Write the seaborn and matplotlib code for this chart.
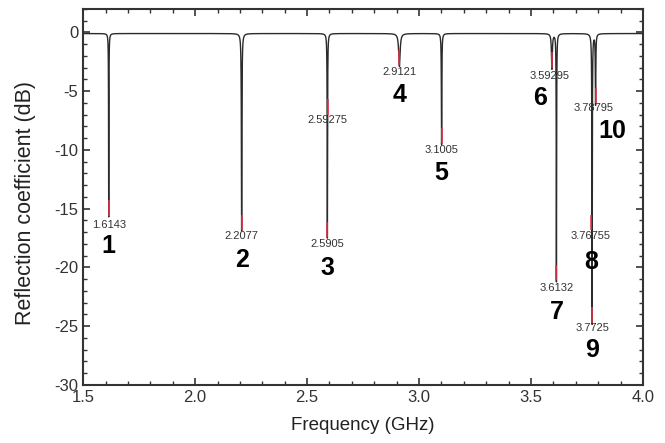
import numpy as np
import pandas as pd
import matplotlib
matplotlib.use("Agg")
import matplotlib.pyplot as plt
from matplotlib.ticker import MultipleLocator, FormatStrFormatter
import seaborn as sns

# Resonances of the measured spectrum: centre frequency (GHz), dip depth (dB), half-width (GHz)
res_freq = [1.6143, 2.2077, 2.5905, 2.9121, 3.1005, 3.59295, 3.6132, 3.7725, 3.78795]
res_depth = [-15.6, -16.8, -17.4, -2.8, -9.45, -3.0, -21.1, -24.7, -6.0]
res_width = [0.0012, 0.002, 0.0015, 0.004, 0.0015, 0.0025, 0.0015, 0.0018, 0.0015]

# Marker readouts: frequency (GHz), level (dB), mode number ("" = unnumbered)
marker_freq = [1.6143, 2.2077, 2.59275, 2.5905, 2.9121, 3.1005, 3.59295, 3.6132, 3.76755, 3.7725, 3.78795]
marker_level = [-15.6, -16.8, -7.0, -17.4, -2.8, -9.45, -3.0, -21.1, -16.8, -24.7, -6.0]
marker_text = ["1.6143", "2.2077", "2.59275", "2.5905", "2.9121", "3.1005", "3.59295", "3.6132", "3.76755", "3.7725", "3.78795"]
mode_number = ["1", "2", "", "3", "4", "5", "6", "7", "8", "9", "10"]

# Text placement (pixel offsets below each marker): (label dx, label dy, number dx, number dy)
placement = [(0, 9, 0, 30), (0, 6, 0, 30), (0, 5, 0, 0), (0, 7, 0, 31), (0, 7, 0, 30),
             (0, 7, 0, 30), (-2, 8, -12, 30), (0, 8, 0, 32), (0, 6, 0, 32), (0, 5, 0, 27),
             (-2, 5, 17, 28)]

# Frequency grid, with every resonance and marker included exactly
freq = np.union1d(np.linspace(1.5, 4.0, 25001), np.array(res_freq + marker_freq))
mag = np.ones_like(freq)
for f0, d, w in zip(res_freq, res_depth, res_width):
    a = 1.0 - 10 ** (d / 20.0)
    mag *= 1.0 - a / (1.0 + ((freq - f0) / w) ** 2)
refl_db = 20 * np.log10(np.clip(mag, 1e-6, None)) - 0.1
df = pd.DataFrame({"Frequency (GHz)": freq, "Reflection coefficient (dB)": refl_db})

sns.set_theme(style="ticks")
plt.rcParams["font.family"] = ["Liberation Sans", "DejaVu Sans"]
plt.rcParams["axes.unicode_minus"] = False

fig = plt.figure(figsize=(6.65, 4.43), dpi=100)
ax = fig.add_axes([0.125, 0.131, 0.842, 0.849])

sns.lineplot(data=df, x="Frequency (GHz)", y="Reflection coefficient (dB)", ax=ax,
             color="#2b2b2b", linewidth=1.0, estimator=None, sort=False, zorder=2)

# Red marker segments on the trace
ax.vlines(marker_freq, np.array(marker_level) + 1.3, marker_level, color="#e8344a",
          linewidth=1.1, zorder=3)

for f, lv, txt, num, (ldx, ldy, ndx, ndy) in zip(marker_freq, marker_level, marker_text,
                                                  mode_number, placement):
    ax.annotate(txt, (f, lv), xytext=(ldx, -ldy), textcoords="offset pixels",
                ha="center", va="center", fontsize=8, color="#333333", zorder=4)
    if num:
        ax.annotate(num, (f, lv), xytext=(ndx, -ndy), textcoords="offset pixels",
                    ha="center", va="center", fontsize=18, fontweight="bold",
                    color="black", zorder=4)

ax.set_xlim(1.5, 4.0)
ax.set_ylim(-30, 2)
ax.xaxis.set_major_locator(MultipleLocator(0.5))
ax.xaxis.set_minor_locator(MultipleLocator(0.1))
ax.yaxis.set_major_locator(MultipleLocator(5))
ax.yaxis.set_minor_locator(MultipleLocator(1))
ax.xaxis.set_major_formatter(FormatStrFormatter("%.1f"))
ax.tick_params(which="both", direction="in", top=True, right=True, colors="#333333",
               labelcolor="#333333", labelsize=12)
ax.tick_params(which="major", length=5, width=1.2)
ax.tick_params(which="minor", length=3, width=1.0)
for sp in ax.spines.values():
    sp.set_color("#333333")
    sp.set_linewidth(1.5)
ax.set_xlabel("Frequency (GHz)", fontsize=13.5, color="#222222", labelpad=9)
ax.set_ylabel("Reflection coefficient (dB)", fontsize=15.5, color="#222222")
ax.yaxis.set_label_coords(-0.084, 0.484)

fig.savefig("out.png", dpi=100)
